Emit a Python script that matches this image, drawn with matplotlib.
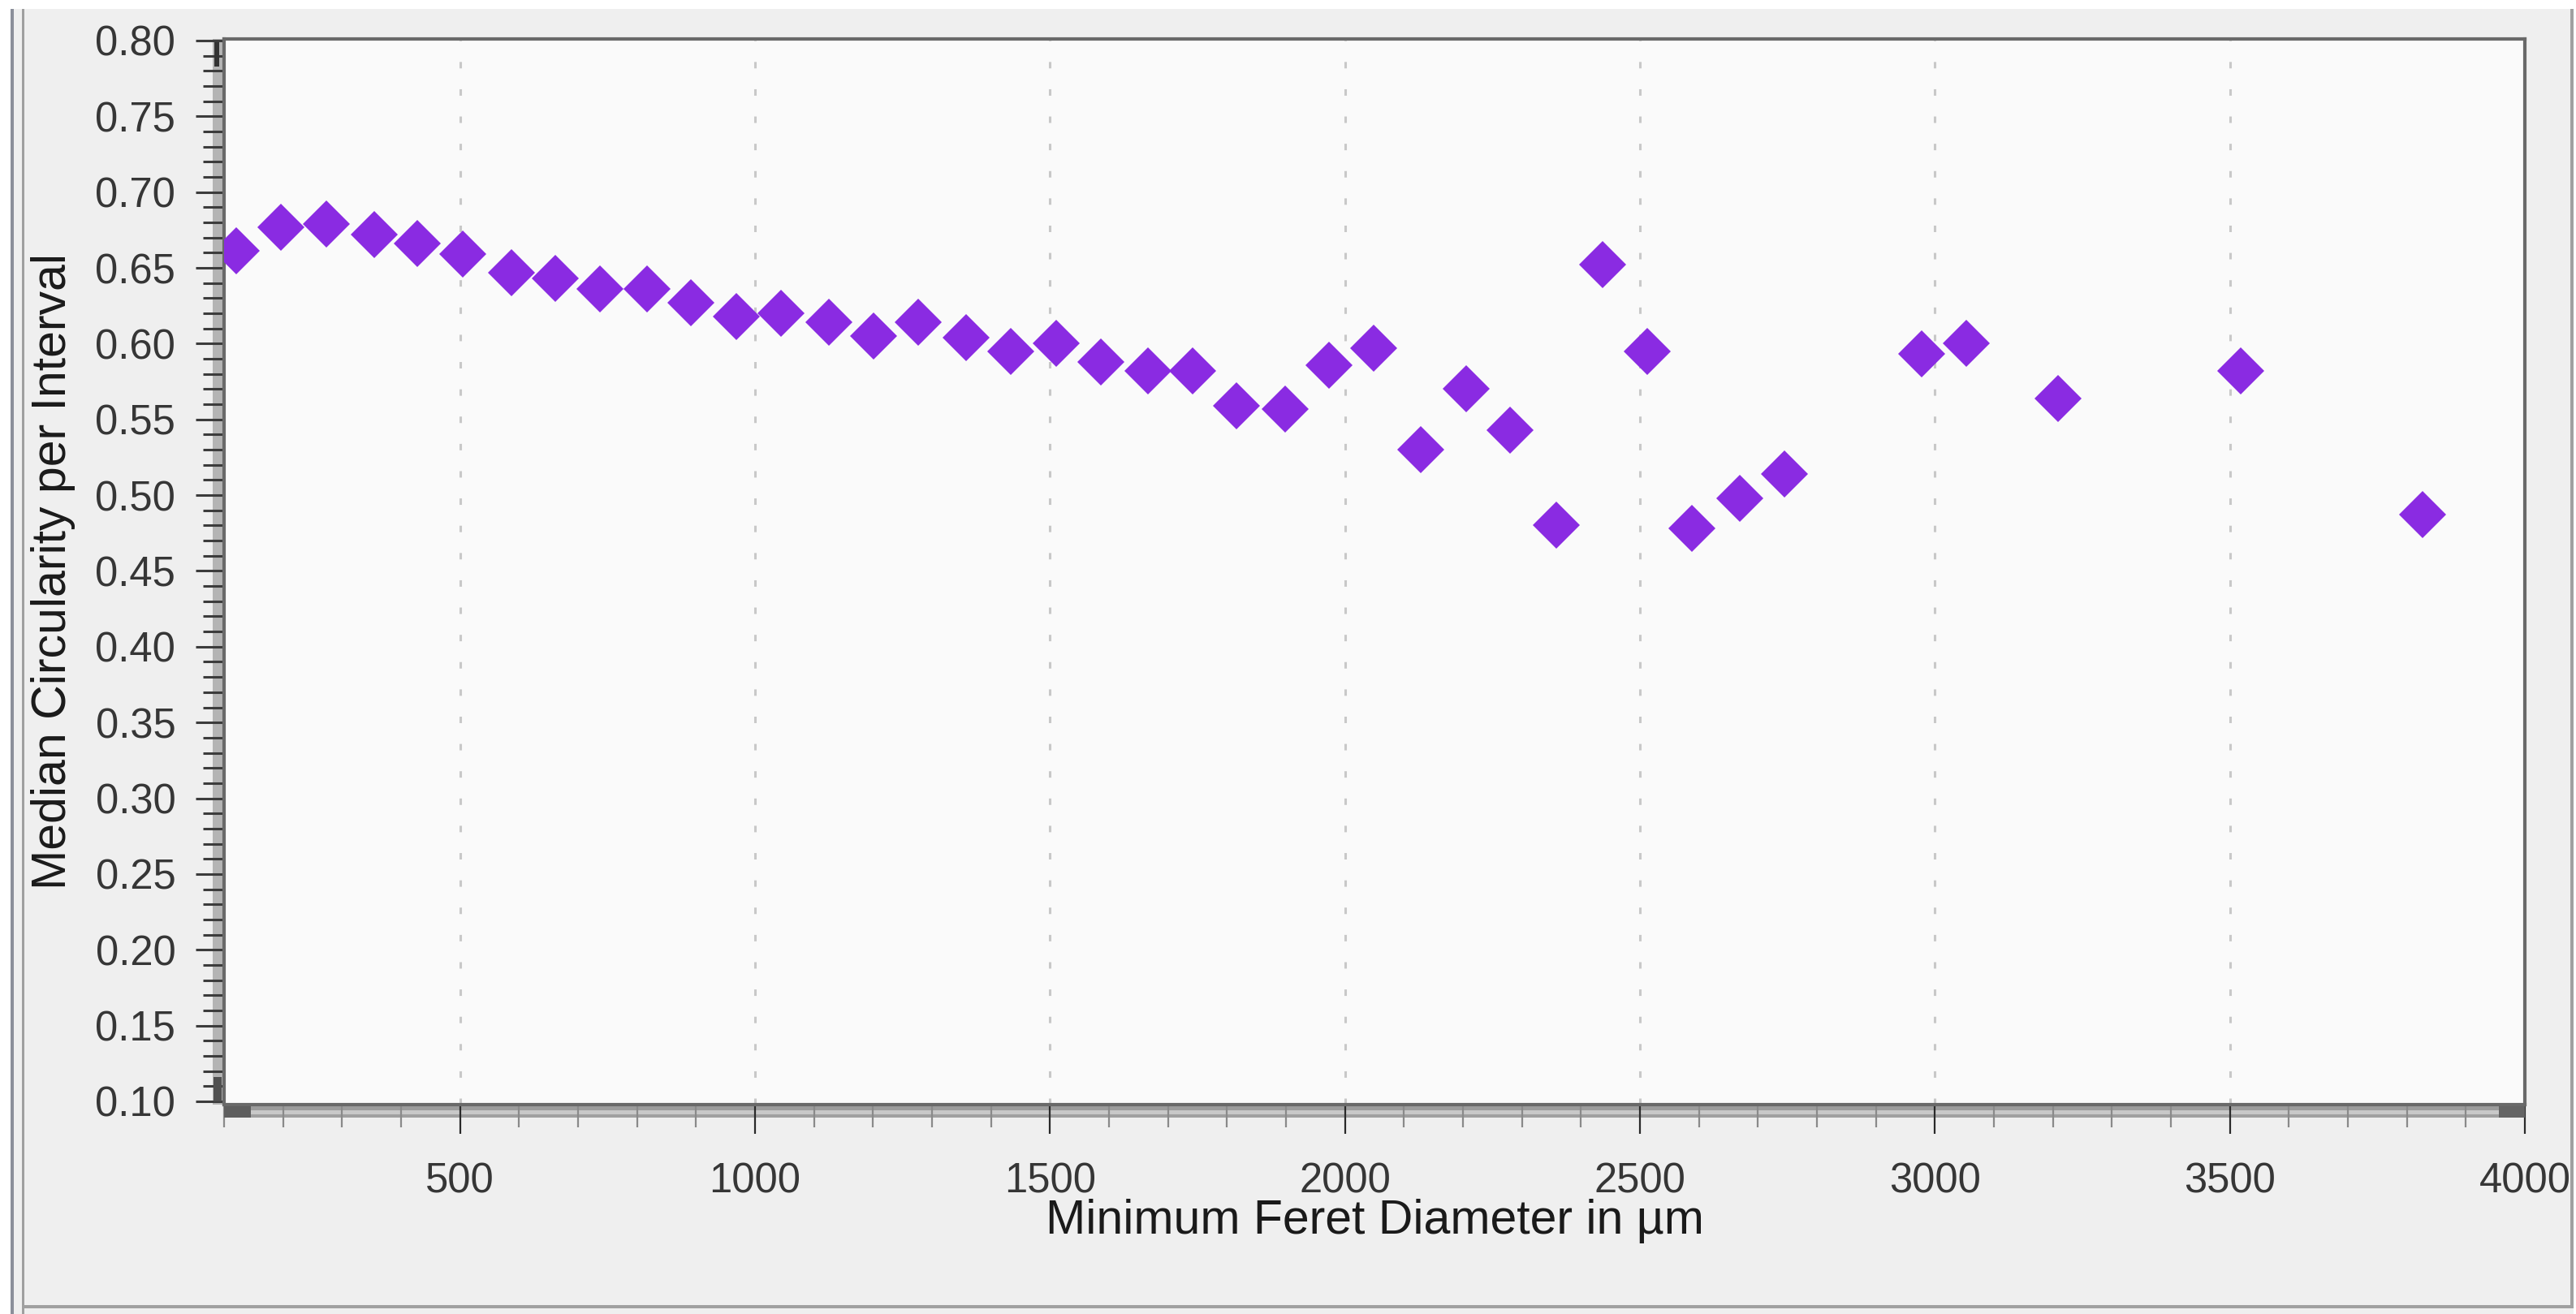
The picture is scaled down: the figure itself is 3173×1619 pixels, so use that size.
import matplotlib.pyplot as plt
from matplotlib.patches import Rectangle
from matplotlib.ticker import MultipleLocator, FormatStrFormatter

plt.rcParams['font.family'] = ['Liberation Sans', 'DejaVu Sans']

# interval positions, minimum Feret diameter in µm
feret = [121, 196, 273, 354, 428, 504, 587, 661, 737, 817,
         891, 968, 1044, 1125, 1201, 1277, 1358, 1434, 1510, 1586,
         1666, 1742, 1816, 1898, 1973, 2049, 2129, 2205, 2280, 2358,
         2437, 2513, 2588, 2669, 2745, 2977, 3053, 3209, 3519, 3827]
# median circularity of each interval
circ = [0.661, 0.677, 0.679, 0.672, 0.666, 0.659, 0.647, 0.643, 0.636, 0.636,
        0.627, 0.618, 0.620, 0.614, 0.605, 0.614, 0.604, 0.595, 0.600, 0.588,
        0.582, 0.582, 0.559, 0.557, 0.586, 0.597, 0.530, 0.570, 0.543, 0.480,
        0.652, 0.595, 0.478, 0.498, 0.514, 0.593, 0.600, 0.564, 0.582, 0.487]

xlabel = u'Minimum Feret Diameter in µm'
ylabel = u'Median Circularity per Interval'

W, H = 3173, 1619
fig = plt.figure(figsize=(W / 100, H / 100), dpi=100, facecolor='#efefef')


def box(x0, y0, x1, y1, color, target=None, z=0):
    # rectangle given in pixels measured from the top left corner
    r = Rectangle((x0 / W, 1 - y1 / H), (x1 - x0) / W, (y1 - y0) / H,
                  transform=fig.transFigure, facecolor=color, edgecolor='none',
                  zorder=z, clip_on=False)
    (target or fig).add_artist(r)


# window frame
box(0, 0, W, 11, 'white')
box(0, 0, 13, H, 'white')
box(13, 11, 17, H, '#8b8f9a')
box(27, 11, 30, H, '#a0a0a0')
box(27, 1608, 3170, 1612, '#a0a0a0')
box(3166, 11, 3170, 1612, '#a0a0a0')
box(3170, 0, W, H, 'white')

ax = fig.add_axes([276 / W, 1 - 1360.7 / H, (3110 - 276) / W, (1360.7 - 48.1) / H])
ax.set_facecolor('#fafafa')

# axis bands with their little scroll thumbs
box(262, 48, 274, 1361, '#b4b4b4', ax, 0.5)
box(264, 52, 270, 82, '#333333', ax, 0.6)
box(263, 1327, 273, 1357, '#505050', ax, 0.6)
box(276, 1363, 3110, 1368, '#9c9c9c', ax, 0.5)
box(276, 1368, 3110, 1373, '#c8c8c8', ax, 0.5)
box(276, 1373, 3110, 1377, '#a0a0a0', ax, 0.5)
box(276, 1363, 309, 1377, '#5e5e5e', ax, 0.6)
box(3078, 1363, 3110, 1377, '#646464', ax, 0.6)

ax.plot(feret, circ, linestyle='none', marker='D', ms=29.5,
        color='#8a2be2', mew=0, zorder=3)

ax.set_xlim(100, 4000)
ax.set_ylim(0.098, 0.801)
ax.xaxis.set_major_locator(MultipleLocator(500))
ax.xaxis.set_minor_locator(MultipleLocator(100))
ax.yaxis.set_major_locator(MultipleLocator(0.05))
ax.yaxis.set_minor_locator(MultipleLocator(0.01))
ax.yaxis.set_major_formatter(FormatStrFormatter('%.2f'))
ax.set_yticks([v / 100 for v in range(10, 81, 5)])

ax.xaxis.grid(True, which='major', color='#c8c8c8', lw=2.2, linestyle=(0, (2.6, 8.4)))
ax.set_axisbelow(True)

for s in ax.spines.values():
    s.set_color('#696969')
    s.set_linewidth(3)

ax.tick_params(axis='y', which='major', length=25, width=2.2, color='#3c3c3c',
               pad=18, labelsize=36.5, labelcolor='#363636')
ax.tick_params(axis='y', which='minor', length=19, width=2.2, color='#3c3c3c')
ax.tick_params(axis='x', which='major', length=26, width=1.6, color='#2a2a2a',
               pad=25, labelsize=36.5, labelcolor='#363636')
ax.tick_params(axis='x', which='minor', length=20, width=1.6, color='#8a8a8a')

ax.set_xlabel(xlabel, fontsize=42.5, color='#1a1a1a')
ax.set_ylabel(ylabel, fontsize=42.5, color='#1a1a1a')
ax.xaxis.set_label_coords(0.5, -0.0886)
ax.yaxis.set_label_coords(-0.0646, 0.5)

fig.savefig('out.png', dpi=100, facecolor=fig.get_facecolor())
